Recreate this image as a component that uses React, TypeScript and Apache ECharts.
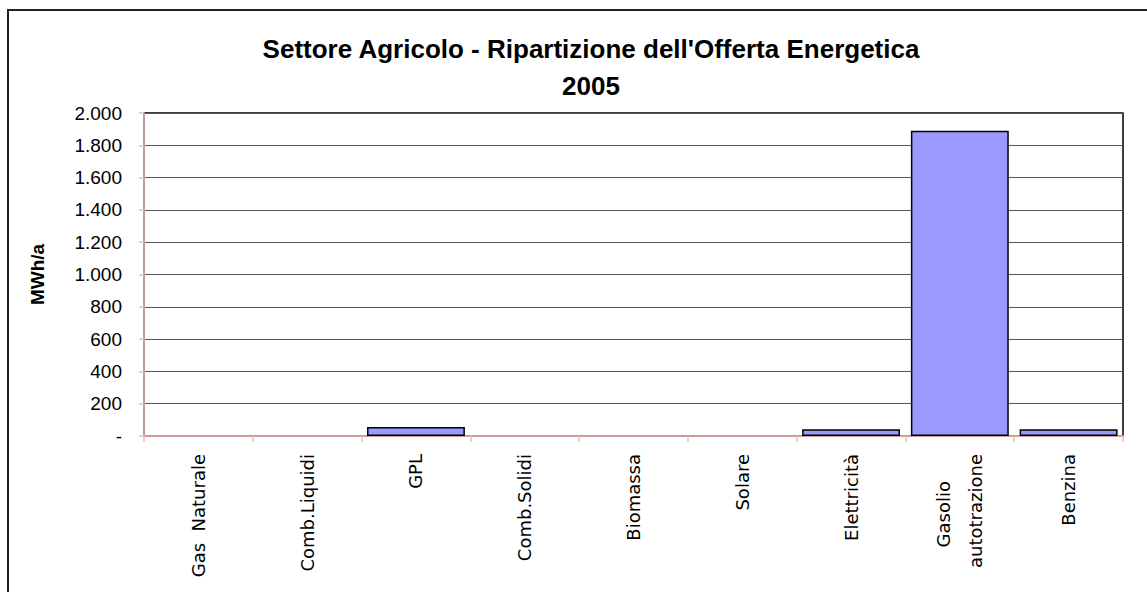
import React, { useEffect, useRef } from "react";
import * as echarts from "echarts";

const categories = [
  "Gas  Naturale",
  "Comb.Liquidi",
  "GPL",
  "Comb.Solidi",
  "Biomassa",
  "Solare",
  "Elettricità",
  "Gasolio\nautotrazione",
  "Benzina",
];
const values = [0, 0, 56, 0, 0, 0, 42, 1890, 42];
const yMin = 0;
const yMax = 2000;
const yStep = 200;
const titleLines = ["Settore Agricolo - Ripartizione dell'Offerta Energetica", "2005"];
const yName = "MWh/a";

const pink = "#f4b8b8";

function fmt(v: number): string {
  if (v === 0) return "-";
  return String(v).replace(/\B(?=(\d{3})+(?!\d))/g, ".");
}

export default function App() {
  const ref = useRef<HTMLDivElement>(null);
  useEffect(() => {
    if (!ref.current) return;
    const chart = echarts.init(ref.current, null, { renderer: "svg" });
    const labelFont = { fontFamily: "DejaVu Sans", fontSize: 18, color: "#000" };
    chart.setOption({
      animation: false,
      backgroundColor: "#fff",
      title: {
        text: titleLines.join("\n"),
        left: 586,
        top: 25,
        textAlign: "center",
        textStyle: {
          fontFamily: "Liberation Sans",
          fontWeight: "bold",
          fontSize: 26,
          lineHeight: 37,
          color: "#000",
        },
      },
      graphic: [
        {
          type: "rect",
          shape: { x: 8, y: 10, width: 1200, height: 700 },
          style: { fill: "none", stroke: "#222", lineWidth: 2 },
          silent: true,
        },
      ],
      grid: {
        left: 144,
        right: 24,
        top: 113,
        bottom: 156,
        show: true,
        borderColor: "#000",
        borderWidth: 1.5,
        backgroundColor: "transparent",
      },
      xAxis: {
        type: "category",
        data: categories,
        axisLine: { show: true, lineStyle: { color: pink, width: 1.5 } },
        axisTick: { show: true, length: 6, alignWithLabel: false, lineStyle: { color: pink, width: 1.5 } },
        axisLabel: {
          interval: 0,
          rotate: 90,
          margin: 18,
          ...labelFont,
          formatter: (v: string) => {
            if (v.indexOf("\n") >= 0) {
              const [a, b] = v.split("\n");
              return "{a|" + a + "}\n{b|" + b + "}";
            }
            return v;
          },
          rich: {
            a: { ...labelFont, lineHeight: 32, padding: [0, 27, 0, 0] },
            b: { ...labelFont, lineHeight: 32 },
          },
        },
        splitLine: { show: false },
      },
      yAxis: {
        type: "value",
        min: yMin,
        max: yMax,
        interval: yStep,
        name: yName,
        nameLocation: "middle",
        nameRotate: 90,
        nameGap: 97,
        nameTextStyle: {
          fontFamily: "Liberation Sans",
          fontWeight: "bold",
          fontSize: 19,
          color: "#000",
        },
        axisLine: { show: true, lineStyle: { color: pink, width: 1.5 } },
        axisTick: { show: true, length: 5, lineStyle: { color: pink, width: 1.5 } },
        axisLabel: {
          margin: 22,
          fontFamily: "Liberation Sans",
          fontSize: 19,
          color: "#000",
          formatter: (v: number) => fmt(v),
        },
        splitLine: { show: true, lineStyle: { color: "#555", width: 1 } },
      },
      series: [
        {
          type: "bar",
          data: values.map((v) =>
            v === 0 ? { value: v, itemStyle: { borderWidth: 0 } } : v
          ),
          barCategoryGap: "10%",
          itemStyle: { color: "#9999ff", borderColor: "#000", borderWidth: 1.5 },
        },
      ],
    });
    return () => chart.dispose();
  }, []);
  return (
    <div
      ref={ref}
      style={{ position: "absolute", left: 0, top: 0, width: 1147, height: 592 }}
    />
  );
}
